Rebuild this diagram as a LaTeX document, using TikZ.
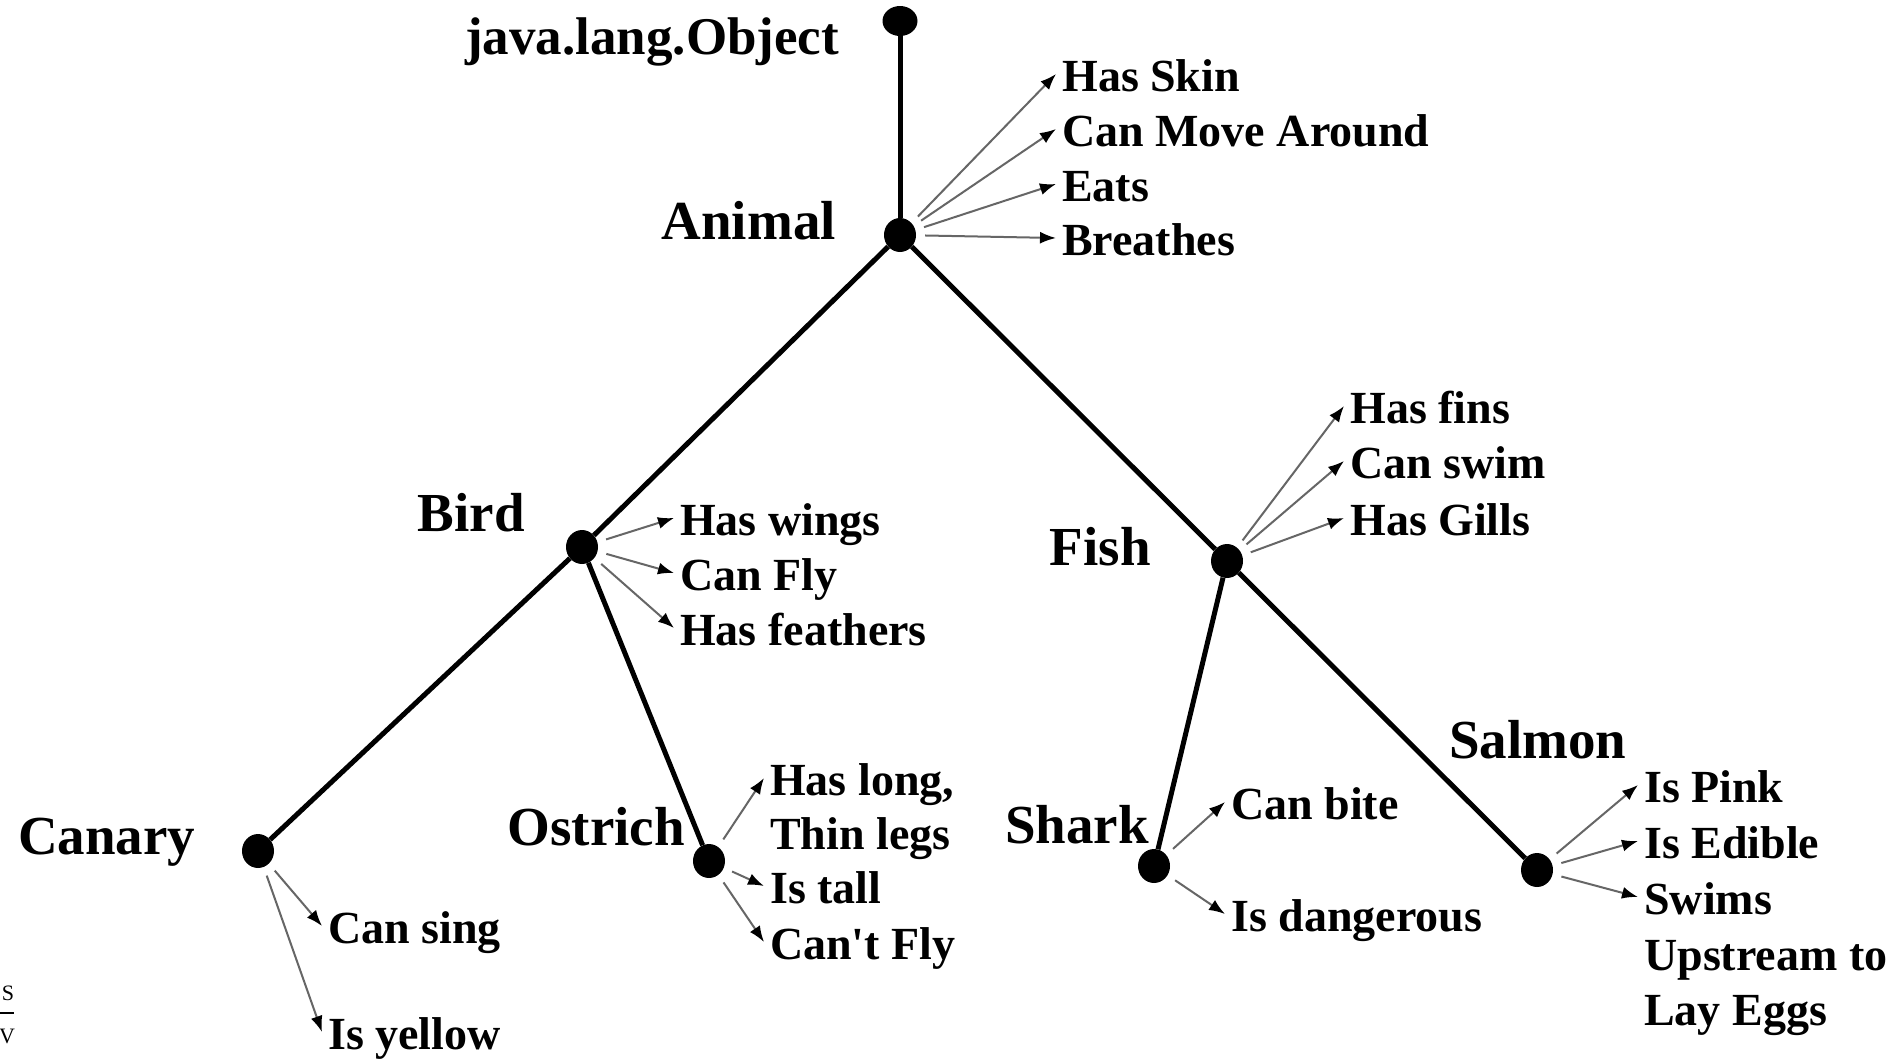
\documentclass[tikz,border=0pt]{standalone}
\usepackage{fontspec}
\setmainfont{Liberation Serif}
\usetikzlibrary{arrows.meta,shapes.geometric}
\begin{document}
\begin{tikzpicture}[x=1pt,y=-1pt,
  dot/.style={ellipse,fill=black,inner sep=0pt,minimum width=32pt,minimum height=34pt},
  edge/.style={line width=5pt},
  lbl/.style={font=\bfseries\fontsize{55}{60}\selectfont,inner sep=0pt},
  feat/.style={font=\bfseries\fontsize{46}{55}\selectfont,inner ysep=0pt,inner xsep=6pt,text height=34pt,text depth=0pt,anchor=base west},
  fa/.style={line width=2pt,draw=black!60,-{Latex[length=16pt,width=12pt,color=black]},shorten <=9pt}
]
\fill[white] (0,0) rectangle (1893,1058);
\useasboundingbox (0,0) rectangle (1893,1058);

% tree nodes
\node[dot,minimum width=35pt,minimum height=30pt] (obj) at (900,21) {};
\node[dot] (animal) at (900,235) {};
\node[dot] (bird) at (582,547) {};
\node[dot] (fish) at (1227,561) {};
\node[dot] (canary) at (258,851) {};
\node[dot] (ostrich) at (709,861) {};
\node[dot] (shark) at (1154,866) {};
\node[dot] (salmon) at (1537,870) {};

% class labels
\node[lbl,font=\bfseries\fontsize{53}{60}\selectfont,anchor=base west] (tobj) at (465,54) {java.lang.Object};
\node[lbl,anchor=base east] (tanimal) at (836,239) {Animal};
\node[lbl,anchor=base east] (tbird) at (525,531) {Bird};
\node[lbl,anchor=base east] (tfish) at (1151,565) {Fish};
\node[lbl,anchor=base west] (tcanary) at (18,854) {Canary};
\node[lbl,anchor=base east] (tostrich) at (685,845) {Ostrich};
\node[lbl,anchor=base east] (tshark) at (1149,843) {Shark};
\node[lbl,anchor=base west] (tsalmon) at (1449,758) {Salmon};

% edges
\draw[edge] (obj) -- (animal);
\draw[edge] (animal) -- (bird);
\draw[edge] (animal) -- (fish);
\draw[edge] (bird) -- (canary);
\draw[edge] (bird) -- (ostrich);
\draw[edge] (fish) -- (shark);
\draw[edge] (fish) -- (salmon);

% features
\node[feat] (hasskin) at (1056,91) {Has Skin};
\node[feat] (canmove) at (1056,146) {Can Move Around};
\node[feat] (eats) at (1056,201) {Eats};
\node[feat] (breathes) at (1056,255) {Breathes};

\node[feat] (haswings) at (674,535) {Has wings};
\node[feat] (canfly) at (674,590) {Can Fly};
\node[feat] (hasfeathers) at (674,645) {Has feathers};

\node[feat] (hasfins) at (1344,423) {Has fins};
\node[feat] (canswim) at (1344,478) {Can swim};
\node[feat] (hasgills) at (1344,535) {Has Gills};

\node[feat] (haslong) at (764,795) {Has long,};
\node[feat] (thinlegs) at (764,849) {Thin legs};
\node[feat] (istall) at (764,903) {Is tall};
\node[feat] (cantfly) at (764,959) {Can\textquotesingle t Fly};

\node[feat] (cansing) at (322,943) {Can sing};
\node[feat] (isyellow) at (322,1049) {Is yellow};

\node[feat] (canbite) at (1225,819) {Can bite};
\node[feat] (isdangerous) at (1225,931) {Is dangerous};

\node[feat] (ispink) at (1638,802) {Is Pink};
\node[feat] (isedible) at (1638,858) {Is Edible};
\node[feat] (swims) at (1638,914) {Swims};
\node[feat] (upstream) at (1638,970) {Upstream to};
\node[feat] (layeggs) at (1638,1025) {Lay Eggs};

% feature arrows
\draw[fa] (animal) -- (hasskin.west);
\draw[fa] (animal) -- (canmove.west);
\draw[fa] (animal) -- (eats.west);
\draw[fa] (animal) -- (breathes.west);

\draw[fa] (bird) -- (haswings.west);
\draw[fa] (bird) -- (canfly.west);
\draw[fa] (bird) -- (hasfeathers.west);

\draw[fa] (fish) -- (hasfins.west);
\draw[fa] (fish) -- (canswim.west);
\draw[fa] (fish) -- (hasgills.west);

\draw[fa] (ostrich) -- (haslong.west);
\draw[fa] (ostrich) -- (istall.west);
\draw[fa] (ostrich) -- (cantfly.west);

\draw[fa] (canary) -- (cansing.west);
\draw[fa] (canary) -- (isyellow.west);

\draw[fa] (shark) -- (canbite.west);
\draw[fa] (shark) -- (isdangerous.west);

\draw[fa] (salmon) -- (ispink.west);
\draw[fa] (salmon) -- (isedible.west);
\draw[fa] (salmon) -- (swims.west);

% stray fraction at left margin
\node[font=\fontsize{22}{24}\selectfont,inner sep=0pt,anchor=base] (sv1) at (8,1000) {S};
\node[font=\fontsize{22}{24}\selectfont,inner sep=0pt,anchor=base] (sv2) at (7,1043) {V};
\draw[line width=2pt] (0,1013) -- (14,1013);
\end{tikzpicture}
\end{document}
